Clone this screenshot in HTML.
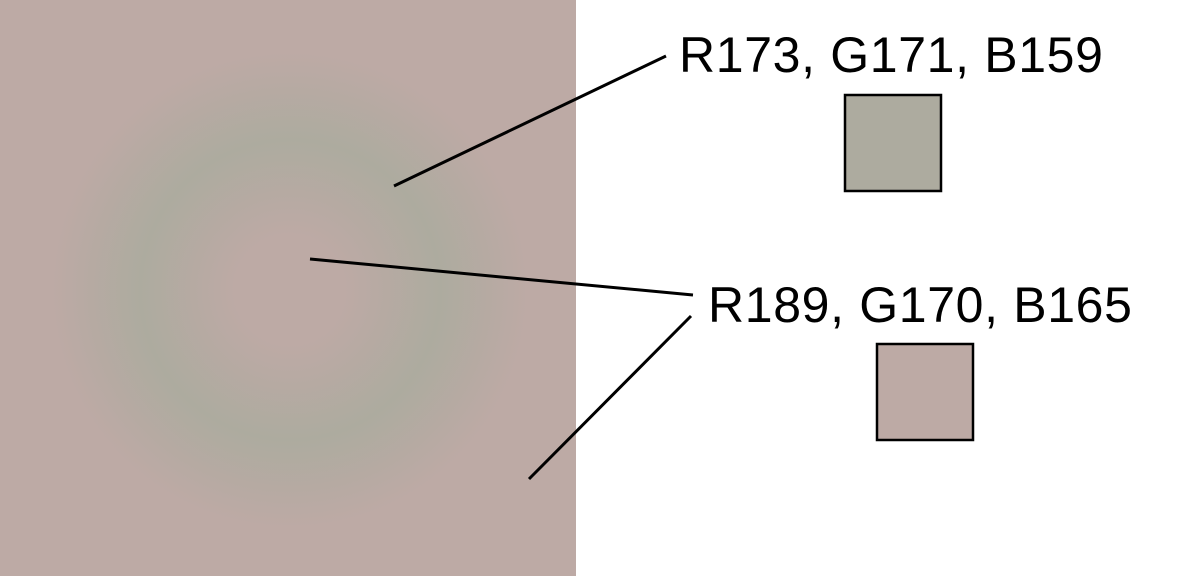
<!DOCTYPE html>
<html><head><meta charset="utf-8"><style>
html,body{margin:0;padding:0;background:#fff;width:1200px;height:576px;overflow:hidden}
</style></head><body>
<svg width="1200" height="576" viewBox="0 0 1200 576" xmlns="http://www.w3.org/2000/svg">
<defs>
<radialGradient id="g" gradientUnits="userSpaceOnUse" cx="290" cy="290" r="250">
<stop offset="0" stop-color="#bdaaa5"/>
<stop offset="0.22" stop-color="#bdaaa5"/>
<stop offset="0.6" stop-color="#adab9f"/>
<stop offset="0.95" stop-color="#bdaaa5"/>
<stop offset="1" stop-color="#bdaaa5"/>
</radialGradient>
</defs>
<rect x="0" y="0" width="576" height="576" fill="#bdaaa5"/>
<rect x="0" y="0" width="576" height="576" fill="url(#g)"/>
<g stroke="#000" stroke-width="3" stroke-linecap="butt">
<line x1="394" y1="186" x2="666" y2="56"/>
<line x1="310" y1="259" x2="693" y2="295"/>
<line x1="529" y1="479" x2="691" y2="316"/>
</g>
<g font-family="Liberation Sans, Arial, sans-serif" font-size="50" fill="#000" letter-spacing="0.65">
<text x="679" y="72">R173, G171, B159</text>
<text x="708" y="322">R189, G170, B165</text>
</g>
<rect x="845" y="95" width="96" height="96" fill="#adab9f" stroke="#000" stroke-width="2.5"/>
<rect x="877" y="344" width="96" height="96" fill="#bdaaa5" stroke="#000" stroke-width="2.5"/>
</svg>
</body></html>
